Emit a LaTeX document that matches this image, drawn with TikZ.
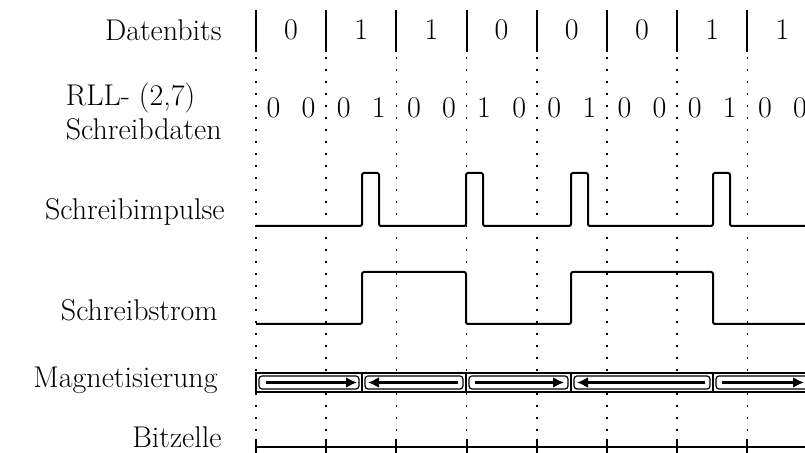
\documentclass[tikz,border=0pt]{standalone}
\usetikzlibrary{arrows.meta}
\tikzset{
  lbl/.style={anchor=east, inner sep=0pt, font=\fontsize{15}{17}\selectfont},
  bit/.style={inner sep=0pt, font=\fontsize{15}{17}\selectfont},
  gridline/.style={line width=0.8pt, dash pattern=on 0.8pt off 5.2pt},
  sig/.style={line width=1pt, rounded corners=1pt},
  magarrow/.style={line width=1.2pt, -{Latex[length=5.5pt,width=5.5pt]}},
}
\begin{document}
\begin{tikzpicture}[x=0.5pt, y=-0.5pt]
    \useasboundingbox (0,0) rectangle (805,453);
    \clip (0,0) rectangle (805,453);
    % bit cell grid
    \foreach \k in {0,...,7} {
        \pgfmathsetmacro\xk{256+70.2*\k}
        \draw[line width=1pt] (\xk,10) -- (\xk,52);
        \draw[gridline] (\xk,57) -- (\xk,440);
        \draw[line width=1pt] (\xk,439) -- (\xk,456);
    }
    \foreach \b [count=\k from 0] in {0,1,1,0,0,0,1,1}
        \node[bit] (d\k) at ({291+70.2*\k},30) {\b};
    \foreach \a/\b [count=\k from 0] in {0/0,0/1,0/0,1/0,0/1,0/0,0/1,0/0} {
        \node[bit] (ca\k) at ({273.5+70.2*\k},108) {\a};
        \node[bit] (cb\k) at ({308.6+70.2*\k},108) {\b};
    }
    % signals
    \draw[sig] (256,226) \foreach \t in {362,466,571,713} {
        -- (\t,226) -- (\t,173) -- ({\t+17},173) -- ({\t+17},226) } -- (805,226);
    \draw[sig] (256,324) -- (362,324) -- (362,272) -- (466,272) -- (466,324)
        -- (571,324) -- (571,272) -- (713,272) -- (713,324) -- (805,324);
    % magnetisation
    \filldraw[fill=white, line width=1.2pt] (256,373) rectangle (812,392);
    \foreach \x in {362,466,571,713}
        \draw[line width=0.8pt] (\x,373) -- (\x,392);
    \foreach \l/\r in {256/362,362/466,466/571,571/713,713/812}
        \draw[line width=0.6pt, rounded corners=1.5pt] ({\l+3},376) rectangle ({\r-3},389);
    \foreach \s/\e in {266/357,458/368,475/564,705/577,722/804}
        \draw[magarrow] (\s,382.5) -- (\e,382.5);
    \draw[line width=1pt] (256,447) -- (805,447);
    % labels
    \node[lbl] (datenbits) at (222,30) {Datenbits};
    \node[lbl, align=left] (rll) at (222,112) {RLL- (2,7)\\Schreibdaten};
    \node[lbl] (impulse) at (225,212) {Schreibimpulse};
    \node[lbl] (strom) at (218,310) {Schreibstrom};
    \node[lbl] (magnet) at (218,380) {Magnetisierung};
    \node[lbl] (zelle) at (222,437) {Bitzelle};
\end{tikzpicture}
\end{document}
